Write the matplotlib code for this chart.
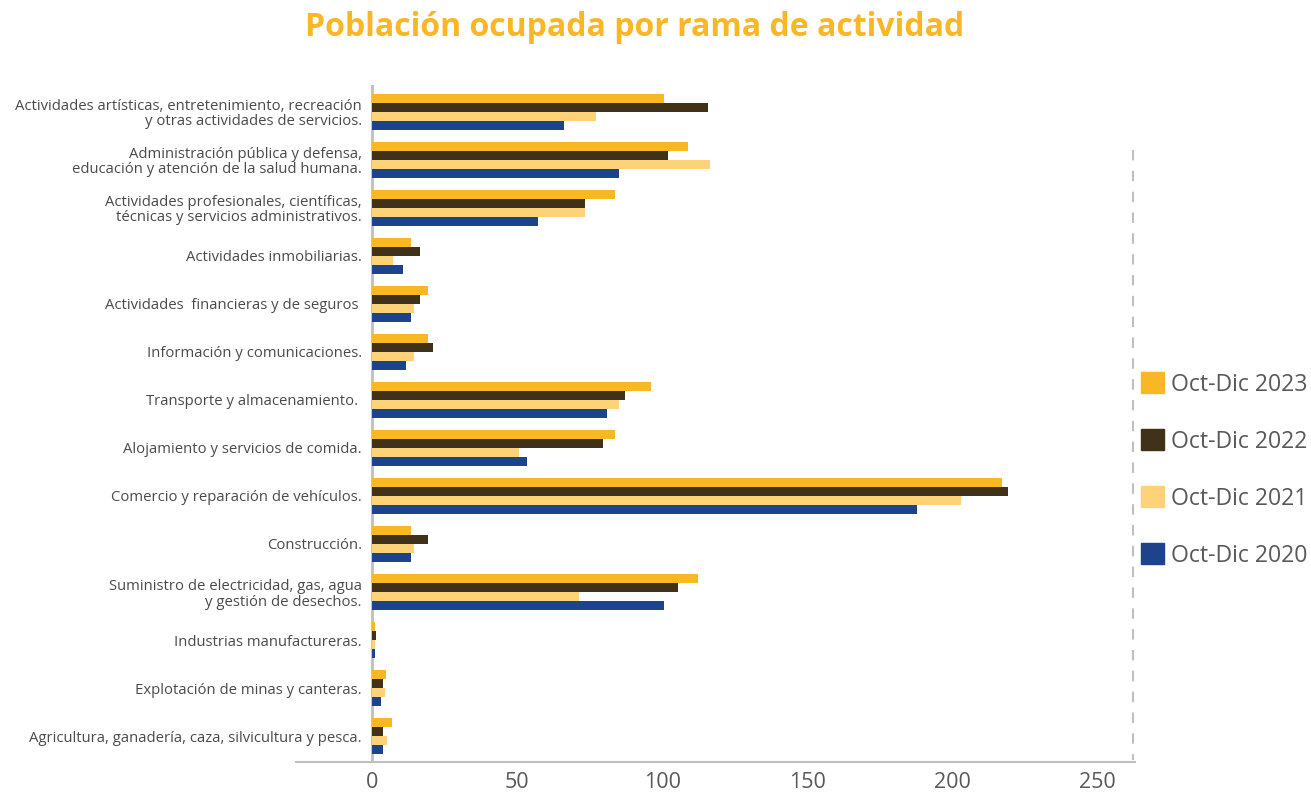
import matplotlib.pyplot as plt
import numpy as np
from matplotlib.patches import Patch
from matplotlib.lines import Line2D

plt.rcParams['font.family'] = ['Open Sans', 'DejaVu Sans']

# categories, top to bottom
categories = [
    "Actividades artísticas, entretenimiento, recreación\ny otras actividades de servicios.",
    "Administración pública y defensa,\neducación y atención de la salud humana.",
    "Actividades profesionales, científicas,\ntécnicas y servicios administrativos.",
    "Actividades inmobiliarias.",
    "Actividades  financieras y de seguros ",
    "Información y comunicaciones.",
    "Transporte y almacenamiento. ",
    "Alojamiento y servicios de comida.",
    "Comercio y reparación de vehículos.",
    "Construcción.",
    "Suministro de electricidad, gas, agua\ny gestión de desechos.",
    "Industrias manufactureras.",
    "Explotación de minas y canteras.",
    "Agricultura, ganadería, caza, silvicultura y pesca.",
]

series_names = ["Oct-Dic 2023", "Oct-Dic 2022", "Oct-Dic 2021", "Oct-Dic 2020"]
v2023 = [100.6, 108.9, 83.8, 13.4, 19.2, 19.2, 96.2, 83.7, 217.1, 13.4, 112.2, 1.0, 4.8, 6.9]
v2022 = [115.7, 102.0, 73.5, 16.5, 16.5, 20.9, 87.2, 79.7, 219.1, 19.2, 105.5, 1.4, 3.8, 3.8]
v2021 = [77.3, 116.4, 73.5, 7.2, 14.4, 14.4, 85.2, 50.5, 203.0, 14.4, 71.5, 1.0, 4.5, 5.2]
v2020 = [66.3, 85.2, 57.3, 10.6, 13.4, 11.7, 81.0, 53.5, 187.8, 13.4, 100.6, 1.0, 3.1, 3.8]
colors = ['#F9B625', '#3F3219', '#FED378', '#1F428D']

xticks = [0, 50, 100, 150, 200, 250]

fig = plt.figure(figsize=(13.11, 7.92), dpi=100)
ax = fig.add_axes([0.2258, 0.0379, 0.64, 0.8548])

y = np.arange(len(categories))
h = 0.1875
all_vals = [v2023, v2022, v2021, v2020]
for i, (vals, col, name) in enumerate(zip(all_vals, colors, series_names)):
    ax.barh(y - 1.5 * h + i * h, vals, height=h, color=col, label=name, zorder=3)

ax.set_ylim(13.54, -0.56)
ax.set_xlim(-26.2, 263)
ax.axvline(0, color='#BFBFBF', lw=2, zorder=2)

# labels sit just left of the zero line, not at the axes edge
ax.set_yticks(y)
ax.set_yticklabels(categories, fontsize=10.75, color='#4a4a4a', multialignment='right',
                   linespacing=1.05)
ax.tick_params(axis='y', length=0, pad=-47.5)
ax.set_xticks(xticks)
ax.set_xticklabels([str(t) for t in xticks], fontsize=15.5, color='#595959')
ax.tick_params(axis='x', length=0, pad=7)

for s in ['top', 'right', 'left']:
    ax.spines[s].set_visible(False)
ax.spines['bottom'].set_color('#BFBFBF')
ax.spines['bottom'].set_linewidth(1.5)

# dashed border on the right
fig.add_artist(Line2D([1133 / 1311, 1133 / 1311], [1 - 150 / 792, 1 - 760 / 792],
                      color='#BFBFBF', lw=1.5, linestyle=(0, (5, 5))))

fig.text(635 / 1311, 1 - 28 / 792, "Población ocupada por rama de actividad",
         ha='center', va='center', fontsize=23, fontweight='bold', color='#F9B625')

handles = [Patch(color=c) for c in colors]
fig.legend(handles, series_names, loc='center left', bbox_to_anchor=(1132 / 1311, 1 - 470 / 792),
           frameon=False, fontsize=16.6, labelcolor='#595959', handlelength=1.0, handleheight=1.0,
           labelspacing=1.42, handletextpad=0.3, borderaxespad=0)

fig.savefig('out.png', dpi=100)
